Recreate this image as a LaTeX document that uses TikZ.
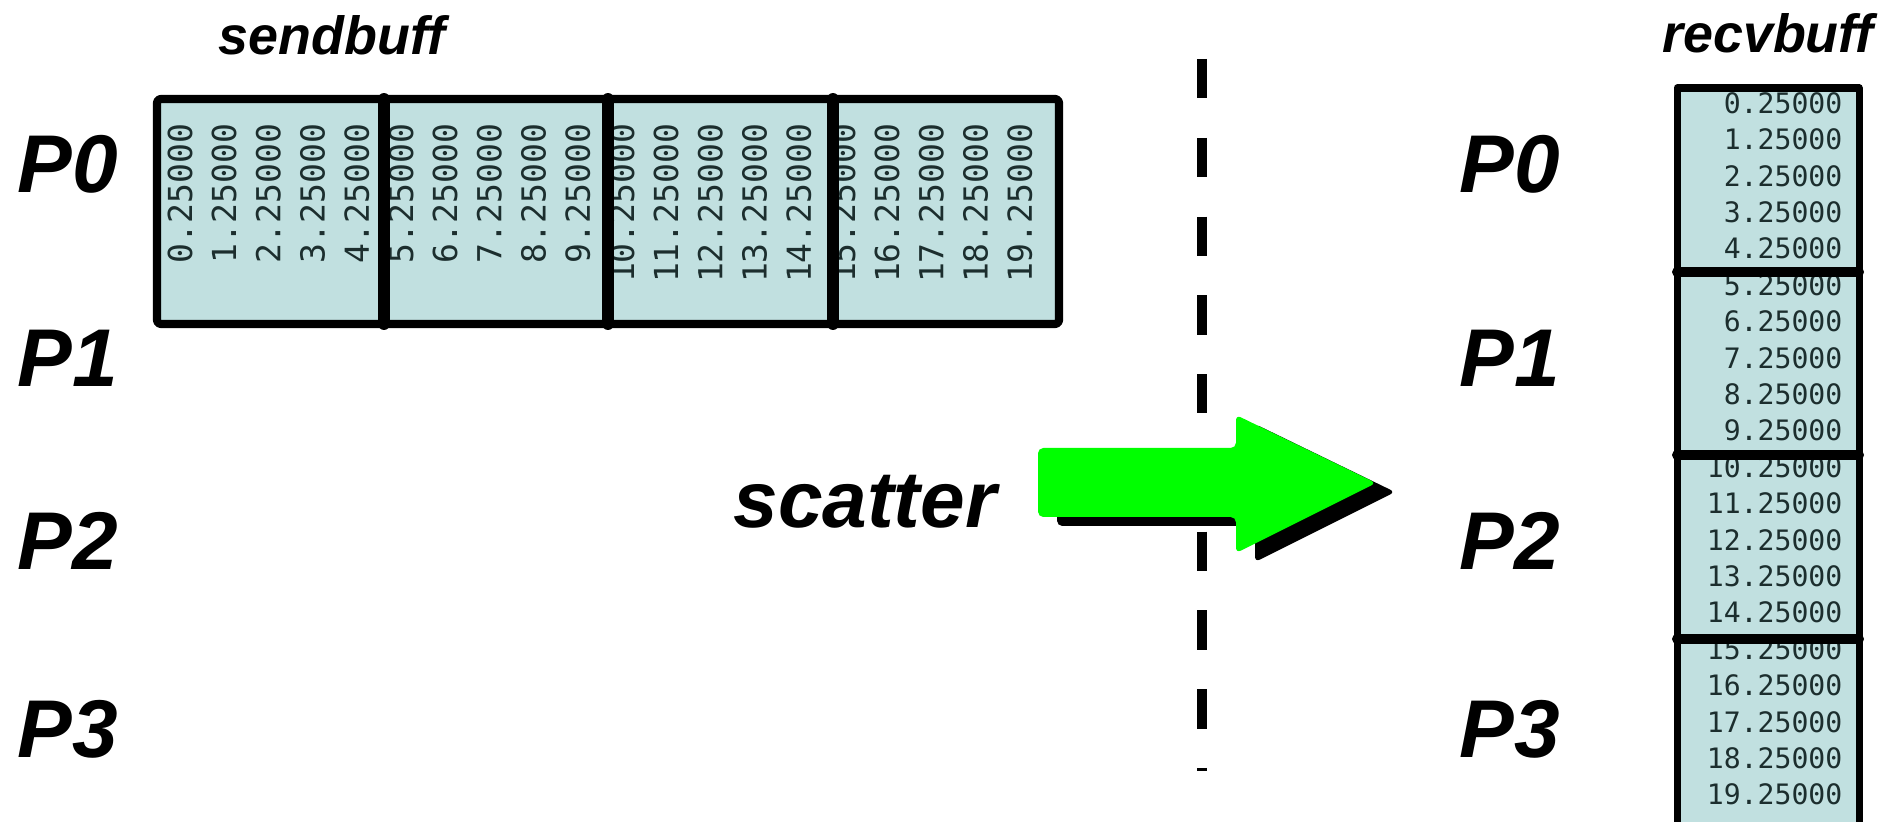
\documentclass[tikz,border=0pt]{standalone}
\usepackage{fontspec}
\setmainfont{Liberation Sans}
\setmonofont{DejaVu Sans Mono}
\definecolor{cellfill}{RGB}{193,224,224}
\definecolor{valtext}{RGB}{28,46,46}
\definecolor{arrowgreen}{RGB}{0,255,0}
\begin{document}
\begin{tikzpicture}[x=0.01cm,y=-0.01cm,line cap=round,line join=round,
  plab/.style={anchor=base west,inner sep=0pt,font=\fontsize{23.3}{23.3}\selectfont\bfseries\itshape},
  blab/.style={anchor=base,inner sep=0pt,font=\fontsize{15.3}{15.3}\selectfont\bfseries\itshape},
  sval/.style={rotate=90,anchor=east,inner sep=0pt,text=valtext,font=\fontsize{9.4}{9.4}\selectfont\ttfamily},
  rval/.style={anchor=east,inner sep=0pt,text=valtext,font=\fontsize{8}{8}\selectfont\ttfamily}]
  \useasboundingbox (0,0) rectangle (1879,822);
  \clip (0,0) rectangle (1879,822);
  \node[blab] (sendbuff) at (332,55) {sendbuff};
  \node[blab] (recvbuff) at (1768,53) {recvbuff};
  \foreach \p/\y in {0/193,1/387,2/570,3/757} {
    \node[plab] (pl\p) at (17,\y) {P\p};
    \node[plab] (pr\p) at (1459,\y) {P\p};
  }
  \fill[cellfill] (157,99) rectangle (1059,324);
  \foreach \i in {0,...,19}
    \node[sval] (s\i) at ({180+44.2*\i},123) {\i.25000};
  \draw[line width=2.3pt,rounded corners=1pt] (157,99) rectangle (1059,324);
  \foreach \x in {384,608,833}
    \draw[line width=3.4pt] (\x,99) -- (\x,324);
  \fill[cellfill] (1677,88) rectangle (1859,850);
  \foreach \i in {0,...,19}
    \node[rval] (r\i) at (1843,{103+36.4*\i}) {\i.25000};
  \draw[line width=2pt] (1677,850) -- (1677,88) -- (1859,88) -- (1859,850);
  \foreach \y in {272,455,639}
    \draw[line width=2.85pt] (1677,\y) -- (1859,\y);
  \draw[line width=2.85pt,line cap=butt,dash pattern=on 11.2pt off 11.2pt] (1202,59) -- (1202,771);
  \fill[black,rounded corners=1.5pt,shift={(19,9)}] (1038,448) -- (1236,448) -- (1236,415) -- (1376,483) -- (1236,553) -- (1236,517) -- (1038,517) -- cycle;
  \fill[arrowgreen,rounded corners=1.5pt] (1038,448) -- (1236,448) -- (1236,415) -- (1376,483) -- (1236,553) -- (1236,517) -- (1038,517) -- cycle;
  \node[anchor=base,inner sep=0pt,font=\fontsize{22.8}{22.8}\selectfont\bfseries\itshape] (scatter) at (865,528) {scatter};
\end{tikzpicture}
\end{document}
